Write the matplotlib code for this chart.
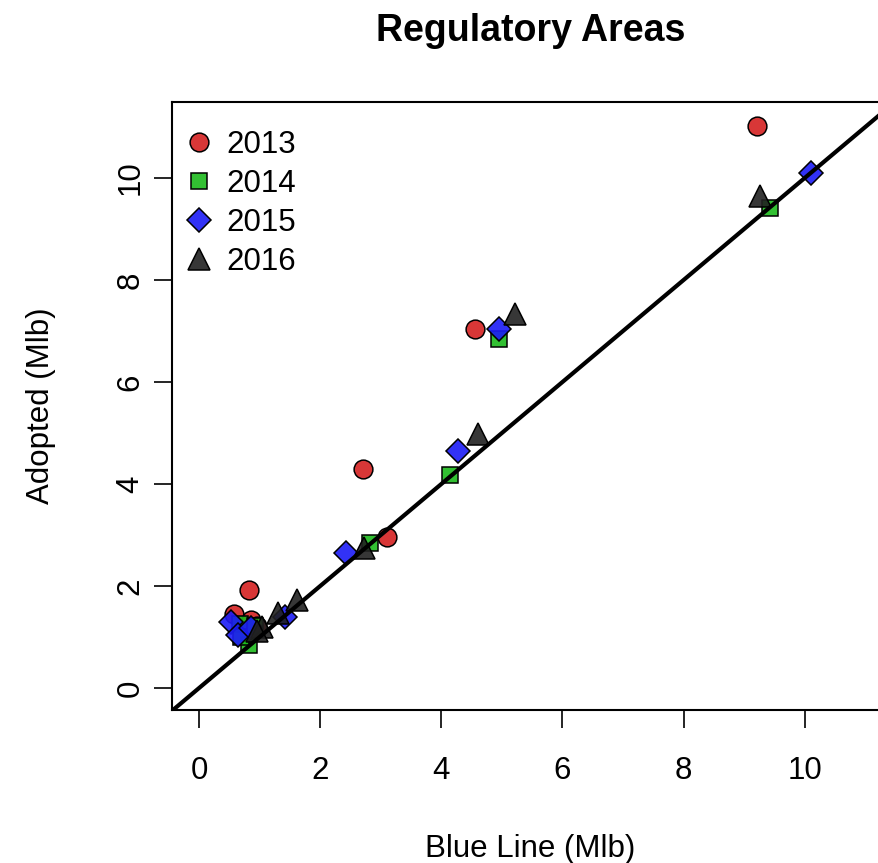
import numpy as np
import matplotlib.pyplot as plt

plt.rcParams['font.family'] = ['Liberation Sans', 'DejaVu Sans']

# blue line vs adopted catch by regulatory area (Mlb)
years = ['2013', '2014', '2015', '2016']
x2013 = [9.22, 4.56, 2.71, 3.11, 0.83, 0.58, 0.85, 0.95]
y2013 = [11.02, 7.04, 4.29, 2.96, 1.92, 1.45, 1.33, 1.22]
x2014 = [9.42, 4.96, 4.15, 2.83, 0.68, 0.82, 0.70, 0.93]
y2014 = [9.41, 6.85, 4.17, 2.84, 1.26, 0.84, 1.00, 1.22]
x2015 = [10.10, 4.95, 4.28, 2.43, 0.52, 0.65, 0.85, 1.42]
y2015 = [10.10, 7.03, 4.65, 2.65, 1.30, 1.04, 1.18, 1.40]
x2016 = [9.26, 5.22, 4.61, 2.73, 1.62, 1.30, 1.04, 0.95]
y2016 = [9.65, 7.33, 4.98, 2.75, 1.73, 1.47, 1.20, 1.12]

xs = [x2013, x2014, x2015, x2016]
ys = [y2013, y2014, y2015, y2016]
markers = ['o', 's', 'D', '^']
sizes = [13.5, 12, 12.5, 16.5]
cols = [(0.83, 0.13, 0.13), (0.11, 0.73, 0.11), (0.11, 0.11, 0.96), (0.13, 0.13, 0.13)]

fig = plt.figure(figsize=(8.79, 8.63), dpi=100)
ax = fig.add_axes([0.1957, 0.1773, 0.83, 0.7045])

for i in range(4):
    ax.plot(xs[i], ys[i], linestyle='none', marker=markers[i], ms=sizes[i],
            mfc=cols[i] + (0.9,), mec='black', mew=1.1, label=years[i])

ax.axline((0, 0), slope=1, color='black', lw=3, zorder=5)

ax.set_xlim(-0.446, 11.6)
ax.set_ylim(-0.43, 11.49)
ax.set_xticks(np.arange(0, 11, 2))
ax.set_yticks(np.arange(0, 11, 2))
ax.tick_params(length=13, width=1.2, labelsize=22.5, pad=20)
ax.tick_params(axis='y', pad=6)
for lab in ax.get_yticklabels():
    lab.set_rotation(90)
    lab.set_va('center')
for s in ax.spines.values():
    s.set_linewidth(1.5)

ax.set_xlabel('Blue Line (Mlb)', fontsize=22.5, va='center')
ax.xaxis.set_label_coords(0.491, -0.229)
ax.set_ylabel('Adopted (Mlb)', fontsize=22.5, va='center')
ax.yaxis.set_label_coords(-0.18, 0.5)
fig.text(0.604, 0.964, 'Regulatory Areas', ha='center', va='center',
         fontsize=27, fontweight='bold')

ax.legend(loc='upper left', frameon=False, fontsize=22.5, handletextpad=0.3,
          labelspacing=0.29, borderaxespad=0.2, handlelength=1.2,
          bbox_to_anchor=(-0.015, 0.985))

fig.savefig('out.png', dpi=100)
